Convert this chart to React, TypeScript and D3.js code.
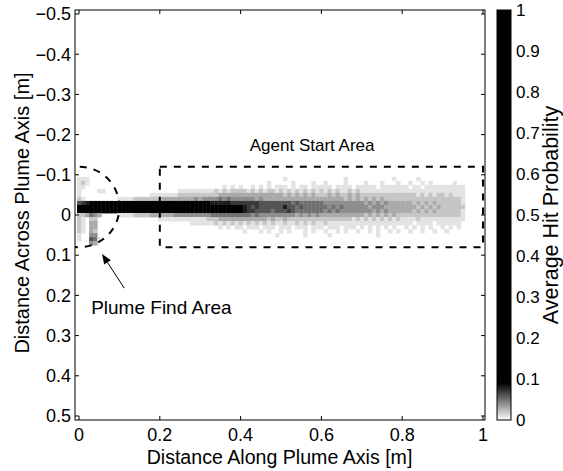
import React from "react";
import * as d3 from "d3";

// ---- data ----
const xTicks = [0, 0.2, 0.4, 0.6, 0.8, 1];
const yTicks = [-0.5, -0.4, -0.3, -0.2, -0.1, 0, 0.1, 0.2, 0.3, 0.4, 0.5];
const cbTicks = [0, 0.1, 0.2, 0.3, 0.4, 0.5, 0.6, 0.7, 0.8, 0.9, 1];

// heat-map rows: cross-plume position (m) of each row of cells
const rowY = [-0.09, -0.08, -0.07, -0.06, -0.05, -0.04, -0.03, -0.02, -0.01, 0, 0.01, 0.02, 0.03, 0.04, 0.05, 0.06, 0.07];
// each character = hit probability in hundredths, one cell per 0.01 m along the plume, from x = 0
const rowLevels = [
  "1110000000" + "0000000000" + "0000000000" + "0000000000" + "0000000000" + "0100000000" + "0000001000" + "0000000010" + "0000100000" + "0000000000" + "0",
  "1210000000" + "0000000000" + "0000000000" + "0000000000" + "0000000100" + "0001000010" + "0100001000" + "0100010001" + "0010010100" + "0001000000" + "0",
  "1100000000" + "0000000000" + "0000000000" + "0000001010" + "1001010101" + "1101011011" + "1110111101" + "1111011111" + "1101101111" + "1111110000" + "0",
  "1000011000" + "0000000000" + "0000011111" + "1111212122" + "2212121221" + "2121212121" + "2121211212" + "1111111111" + "1111111111" + "1111110000" + "0",
  "1000000000" + "0000000011" + "1111122222" + "2222233333" + "3333333333" + "3232323232" + "2232322323" + "2222222222" + "2222121212" + "2121110000" + "0",
  "2100000000" + "1111222222" + "2333333334" + "3444454544" + "4444343333" + "3333333333" + "3333332323" + "2323232222" + "2222222222" + "2222210000" + "0",
  "6789999999" + "9999999999" + "9999999999" + "9998888877" + "7777766666" + "6665655555" + "5444444444" + "4343434333" + "3332323232" + "2222210000" + "0",
  "9999999999" + "9999999999" + "9999999999" + "9999999999" + "9876766666" + "6866565555" + "5545454444" + "4434443333" + "3333232323" + "2222220000" + "0",
  "9999999999" + "9999999999" + "9999999999" + "9999999999" + "9877666656" + "6676555555" + "5454544444" + "4443434333" + "3332323232" + "2222210000" + "0",
  "2235430000" + "1111222233" + "3333444444" + "4445555555" + "5554544444" + "4444343434" + "3333333333" + "3232323232" + "2222222222" + "2222210000" + "0",
  "2102200000" + "0000000000" + "1111111111" + "1122233333" + "3333333232" + "2322222222" + "2222222212" + "1212121212" + "1111211111" + "1111110000" + "0",
  "2103300000" + "0000000000" + "0000000011" + "1111212121" + "2121212121" + "1211212121" + "1211111111" + "1111111111" + "1110111101" + "1111100000" + "0",
  "2103300000" + "0000000000" + "0000000000" + "0000010101" + "1011101110" + "1110111011" + "1011101110" + "1010101010" + "0101010100" + "1010100000" + "0",
  "2103200000" + "0000000000" + "0000000000" + "0000000000" + "0100010100" + "1010001010" + "0100101001" + "0010100101" + "0010010010" + "0100000000" + "0",
  "1004400000" + "0000000000" + "0000000000" + "0000000000" + "0000000001" + "0000001000" + "0010000000" + "0000100000",
  "1006510000",
  "0004300000",
];
const cellSize = 0.01;
const levelUnit = 0.01;

// annotations (data coordinates)
const agentBoxX = [0.2, 1.0];
const agentBoxY = [-0.12, 0.08];
const findCenter = [0, -0.02];
const findRadius = 0.1;
const arrowTail = [0.112, 0.182];
const arrowHead = [0.057, 0.097];
const agentLabelPos = [0.577, -0.159];
const findLabelPos = [0.03, 0.246];

const W = 563;
const H = 471;
const plot = { left: 75, right: 485, top: 10, bottom: 420 };
const cb = { left: 497, right: 511 };
const FONT = "'Liberation Sans', Arial, Helvetica, sans-serif";

const fmt = (v: number) => {
  const s = d3.format(".1f")(Math.abs(v));
  const t = v === 0 ? "0" : v === 1 ? "1" : s;
  return (v < 0 ? "\u2212" : "") + t;
};

export default function App() {
  const x = d3.scaleLinear().domain([-0.01, 1.005]).range([plot.left, plot.right]);
  const y = d3.scaleLinear().domain([-0.51, 0.51]).range([plot.top, plot.bottom]);
  const color = d3.scaleLinear<string>().domain([0, 0.09]).range(["#ffffff", "#000000"]).clamp(true);
  const cbY = d3.scaleLinear().domain([0, 1]).range([plot.bottom, plot.top]);

  const cells: { x0: number; x1: number; y0: number; y1: number; v: number }[] = [];
  rowLevels.forEach((row, r) => {
    for (let c = 0; c < row.length; c++) {
      const lvl = +row[c];
      if (!lvl) continue;
      const cx = c * cellSize;
      cells.push({
        x0: x(cx - cellSize / 2),
        x1: x(cx + cellSize / 2),
        y0: y(rowY[r] - cellSize / 2),
        y1: y(rowY[r] + cellSize / 2),
        v: lvl * levelUnit,
      });
    }
  });

  const tl = 4;
  const rx = x(findRadius) - x(0);
  const ry = y(findRadius) - y(0);

  // arrow head geometry
  const hx = x(arrowHead[0]), hy = y(arrowHead[1]);
  const tx = x(arrowTail[0]), ty = y(arrowTail[1]);
  const ang = Math.atan2(hy - ty, hx - tx);
  const hl = 10, hw = 4;
  const bx = hx - hl * Math.cos(ang), by = hy - hl * Math.sin(ang);
  const head = [
    [hx, hy],
    [bx + hw * Math.sin(ang), by - hw * Math.cos(ang)],
    [bx - hw * Math.sin(ang), by + hw * Math.cos(ang)],
  ];

  const gradStops = d3.range(0, 1.0001, 0.01).map((v) => ({ o: v, c: color(v) }));

  return (
    <svg
      width={W}
      height={H}
      style={{ position: "absolute", left: 0, top: 0, background: "#fff" }}
      fontFamily={FONT}
    >
      <defs>
        <clipPath id="plotclip">
          <rect x={plot.left} y={plot.top} width={plot.right - plot.left} height={plot.bottom - plot.top} />
        </clipPath>
        <linearGradient id="cbgrad" x1="0" y1="1" x2="0" y2="0">
          {gradStops.map((s, i) => (
            <stop key={i} offset={s.o} stopColor={s.c} />
          ))}
        </linearGradient>
      </defs>
      <rect x={0} y={0} width={W} height={H} fill="#fff" />

      <g clipPath="url(#plotclip)">
        {cells.map((d, i) => (
          <rect
            key={i}
            x={d.x0}
            y={d.y0}
            width={d.x1 - d.x0 + 0.4}
            height={d.y1 - d.y0 + 0.4}
            fill={color(d.v)}
          />
        ))}
        {/* agent start area */}
        <rect
          x={x(agentBoxX[0])}
          y={y(agentBoxY[0])}
          width={x(agentBoxX[1]) - x(agentBoxX[0])}
          height={y(agentBoxY[1]) - y(agentBoxY[0])}
          fill="none"
          stroke="#000"
          strokeWidth={2}
          strokeDasharray="7,7"
        />
        {/* plume find area */}
        <ellipse
          cx={x(findCenter[0])}
          cy={y(findCenter[1])}
          rx={rx}
          ry={ry}
          fill="none"
          stroke="#000"
          strokeWidth={2}
          strokeDasharray="7,7"
          strokeDashoffset={-Math.PI * 1.5 * rx}
        />
      </g>

      {/* axes box */}
      <rect
        x={plot.left}
        y={plot.top}
        width={plot.right - plot.left}
        height={plot.bottom - plot.top}
        fill="none"
        stroke="#000"
        strokeWidth={1}
      />
      {xTicks.map((t) => (
        <g key={"x" + t}>
          <line x1={x(t)} x2={x(t)} y1={plot.bottom} y2={plot.bottom - tl} stroke="#000" />
          <line x1={x(t)} x2={x(t)} y1={plot.top} y2={plot.top + tl} stroke="#000" />
          <text x={x(t)} y={441} fontSize={18} textAnchor="middle">
            {fmt(t)}
          </text>
        </g>
      ))}
      {yTicks.map((t) => (
        <g key={"y" + t}>
          <line x1={plot.left} x2={plot.left + tl} y1={y(t)} y2={y(t)} stroke="#000" />
          <line x1={plot.right} x2={plot.right - tl} y1={y(t)} y2={y(t)} stroke="#000" />
          <text x={71} y={y(t)} dy="0.35em" fontSize={18} textAnchor="end">
            {fmt(t)}
          </text>
        </g>
      ))}

      <text x={(plot.left + plot.right) / 2 - 0.5} y={464} fontSize={19.6} textAnchor="middle">
        Distance Along Plume Axis [m]
      </text>
      <text
        transform={`translate(29,${(plot.top + plot.bottom) / 2 - 2}) rotate(-90)`}
        fontSize={20}
        textAnchor="middle"
      >
        Distance Across Plume Axis [m]
      </text>

      {/* annotations */}
      <text x={x(agentLabelPos[0])} y={y(agentLabelPos[1])} fontSize={17} textAnchor="middle">
        Agent Start Area
      </text>
      <text x={x(findLabelPos[0])} y={y(findLabelPos[1])} fontSize={19}>
        Plume Find Area
      </text>
      <line x1={tx} y1={ty} x2={bx} y2={by} stroke="#000" strokeWidth={1} />
      <polygon points={head.map((p) => p.join(",")).join(" ")} fill="#000" />

      {/* colorbar */}
      <rect
        x={cb.left}
        y={plot.top}
        width={cb.right - cb.left}
        height={plot.bottom - plot.top}
        fill="url(#cbgrad)"
        stroke="#000"
        strokeWidth={1}
      />
      {cbTicks.map((t) => (
        <text key={"c" + t} x={516} y={cbY(t)} dy="0.35em" fontSize={17}>
          {fmt(t)}
        </text>
      ))}
      <text
        transform={`translate(558,${(plot.top + plot.bottom) / 2}) rotate(-90)`}
        fontSize={21.5}
        textAnchor="middle"
      >
        Average Hit Probability
      </text>
    </svg>
  );
}
